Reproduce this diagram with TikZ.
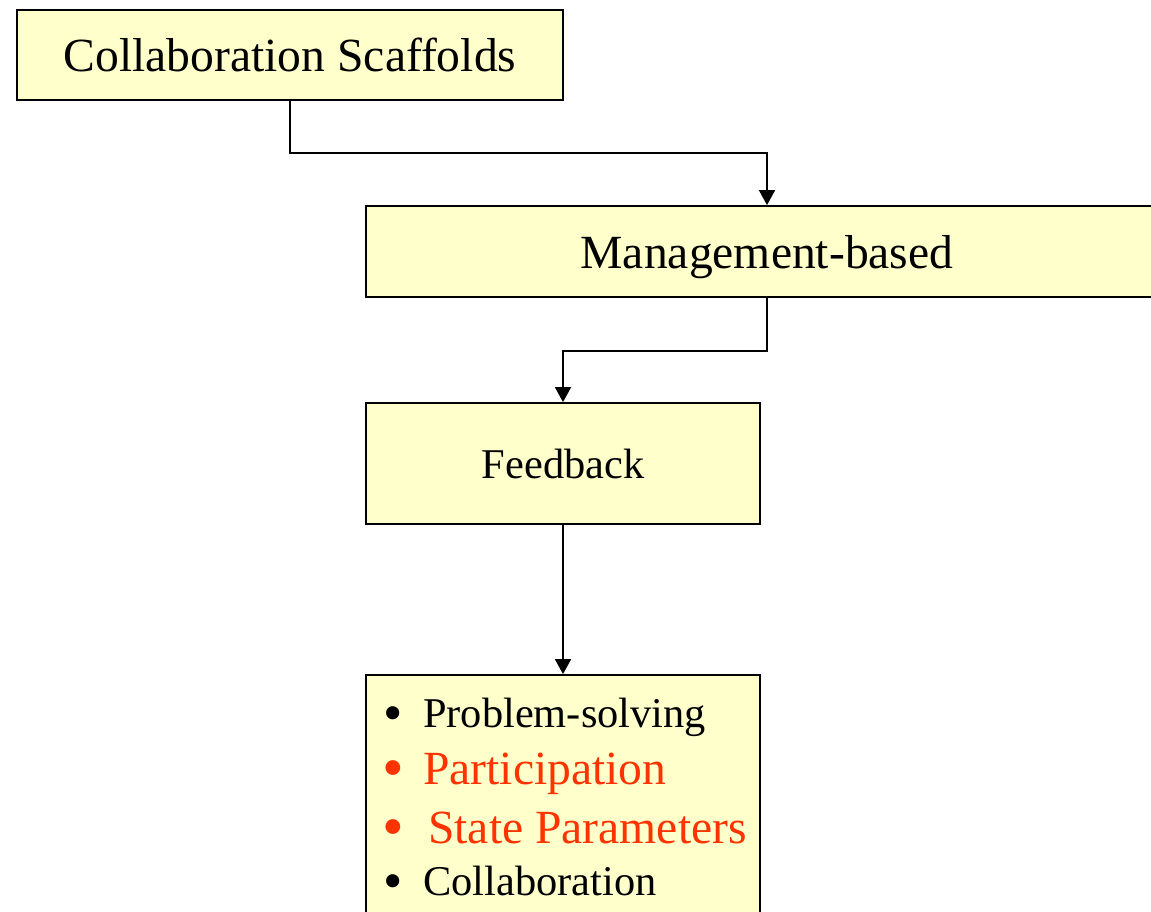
\documentclass[tikz,border=0pt]{standalone}
\usepackage{fontspec}
\setmainfont{Liberation Serif}
\usetikzlibrary{arrows.meta}
\definecolor{boxfill}{RGB}{255,255,204}
\definecolor{itemred}{RGB}{255,51,0}
\newcommand{\bigbul}{\makebox[0pt][c]{\smash{\raisebox{-4.5pt}{\scalebox{1.3}{\textbullet}}}}}
\begin{document}
\begin{tikzpicture}[x=1pt,y=-1pt,
  box/.style={draw=black, line width=1.8pt, fill=boxfill, inner sep=0pt},
  conn/.style={line width=1.8pt, -{Triangle[length=15pt,width=16pt]}},
  big/.style={font=\fontsize{47.6}{50}\selectfont},
  small/.style={font=\fontsize{42.4}{46}\selectfont},
  item/.style={anchor=base west, inner sep=0pt}]
\useasboundingbox (0,0) rectangle (1151,912);
\clip (0,0) rectangle (1151,912);
\node[box, big, minimum width=546pt, minimum height=90pt] (cs) at (290,55) {Collaboration Scaffolds};
\node[box, big, minimum width=802pt, minimum height=91pt, text depth=0pt] (mb) at (767,251.5) {Management-based};
\node[box, small, minimum width=394pt, minimum height=121pt] (fb) at (563,463.5) {Feedback};
\node[box, minimum width=394pt, minimum height=260pt] (lst) at (563,805) {};
\node[item, small] (i1) at (393,727) {\bigbul\hspace{30pt}Problem-solving};
\node[item, big, text=itemred] (i2) at (393,784) {\bigbul\hspace{30pt}Participation};
\node[item, big, text=itemred] (i3) at (393,843) {\bigbul\hspace{35pt}State Parameters};
\node[item, small] (i4) at (393,895) {\bigbul\hspace{30pt}Collaboration};
\draw[conn] (cs.south) -- ++(0,52) -| (mb.north);
\draw[conn] (mb.south) -- ++(0,53) -| (fb.north);
\draw[conn] (fb.south) -- (lst.north);
\end{tikzpicture}
\end{document}
